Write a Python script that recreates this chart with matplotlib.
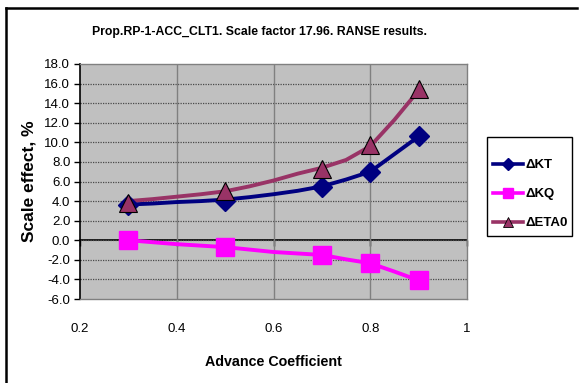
import matplotlib
matplotlib.use("Agg")
import matplotlib.pyplot as plt
from matplotlib.lines import Line2D
from matplotlib.patches import Rectangle

# Advance coefficient grid for the smoothed curves
J_curve = [0.30, 0.35, 0.40, 0.45, 0.50, 0.55, 0.60, 0.65, 0.70, 0.75, 0.80, 0.85, 0.90]
kt_curve = [3.65, 3.75, 3.90, 4.00, 4.15, 4.40, 4.70, 5.05, 5.50, 6.20, 7.00, 8.80, 10.60]
kq_curve = [0.00, -0.20, -0.40, -0.55, -0.70, -0.95, -1.20, -1.35, -1.50, -1.95, -2.35, -3.20, -4.10]
eta_curve = [4.00, 4.20, 4.45, 4.70, 5.00, 5.50, 6.10, 6.80, 7.40, 8.20, 9.60, 12.30, 15.30]

# Computed points
J_pts = [0.3, 0.5, 0.7, 0.8, 0.9]
kt_pts = [3.65, 4.0, 5.4, 7.0, 10.6]
kq_pts = [0.05, -0.66, -1.55, -2.36, -4.1]
eta_pts = [3.8, 5.0, 7.3, 9.7, 15.4]

x_ticks = [0.2, 0.4, 0.6, 0.8, 1.0]
x_labels = ["0.2", "0.4", "0.6", "0.8", "1"]
y_ticks = [-6, -4, -2, 0, 2, 4, 6, 8, 10, 12, 14, 16, 18]

plt.rcParams["font.family"] = ["Liberation Sans", "DejaVu Sans"]

C_KT = "#000080"
C_KQ = "#FF00FF"
C_ETA = "#993366"

W, H = 582, 383
fig = plt.figure(figsize=(W / 100, H / 100), dpi=100)
ax = fig.add_axes([80 / W, 84 / H, 387 / W, 235 / H])
ax.set_facecolor("#C0C0C0")

ax.set_xlim(0.2, 1.0)
ax.set_ylim(-6, 18)
ax.set_xticks(x_ticks)
ax.set_xticklabels(x_labels)
ax.set_yticks(y_ticks)
ax.set_yticklabels([f"{v:.1f}" for v in y_ticks])
ax.tick_params(axis="x", length=0, pad=17, labelsize=9.5)
ax.tick_params(axis="y", direction="out", length=4, width=1, pad=3, labelsize=9.5)

# grid: dotted horizontals, plain verticals
for v in y_ticks[1:-1]:
    ax.axhline(v, color="#4a4a4a", lw=0.9, ls=(0, (1, 1)), zorder=1)
for v in x_ticks[1:-1]:
    ax.axvline(v, color="#808080", lw=1.0, zorder=1)

for s in ["top", "right", "bottom"]:
    ax.spines[s].set_color("#808080")
    ax.spines[s].set_linewidth(1.0)
ax.spines["left"].set_color("black")
ax.spines["left"].set_linewidth(1.2)

# x axis crosses at zero
zero_ax = ax.secondary_xaxis(6 / 24)
zero_ax.set_xticks(x_ticks)
zero_ax.tick_params(direction="out", length=4, width=1, labelbottom=False, labeltop=False)
zero_ax.spines["bottom"].set_color("black")
zero_ax.spines["bottom"].set_linewidth(1.2)

# smoothed curves
ax.plot(J_curve, kt_curve, color=C_KT, lw=2.8, zorder=3, solid_capstyle="round")
ax.plot(J_curve, kq_curve, color=C_KQ, lw=2.8, zorder=3, solid_capstyle="round")
ax.plot(J_curve, eta_curve, color=C_ETA, lw=2.8, zorder=3, solid_capstyle="round")

# markers
ax.plot(J_pts, kt_pts, ls="none", marker="D", ms=10, color=C_KT, mec=C_KT, zorder=4)
ax.plot(J_pts, kq_pts, ls="none", marker="s", ms=12.5, color=C_KQ, mec=C_KQ, zorder=4)
ax.plot(J_pts, eta_pts, ls="none", marker="^", ms=13, color=C_ETA, mec="black", mew=0.8, zorder=5)

ax.set_xlabel("Advance Coefficient", fontsize=10.3, fontweight="bold", labelpad=15)
ax.set_ylabel("Scale effect, %", fontsize=12.5, fontweight="bold", labelpad=6)

fig.text(260 / W, 1 - 32 / H, "Prop.RP-1-ACC_CLT1. Scale factor 17.96. RANSE results.",
         ha="center", va="center", fontsize=8.8, fontweight="bold")

# legend box drawn separately so its padding can differ per side
fig.add_artist(Rectangle((487 / W, 1 - 236 / H), 85 / W, 99 / H, transform=fig.transFigure,
                         facecolor="white", edgecolor="black", lw=1.0, zorder=2))
handles = [
    Line2D([], [], color=C_KT, lw=2.6, marker="D", ms=6, mec=C_KT),
    Line2D([], [], color=C_KQ, lw=2.6, marker="s", ms=6.5, mec=C_KQ),
    Line2D([], [], color=C_ETA, lw=2.6, marker="^", ms=7, mec="black", mew=0.6),
]
leg = fig.legend(handles, ["\u0394KT", "\u0394KQ", "\u0394ETA0"],
                 loc="upper left", bbox_to_anchor=(493 / W, 1 - 159 / H),
                 frameon=False, prop={"weight": "bold", "size": 9.5},
                 handlelength=2.3, handletextpad=0.15, labelspacing=1.28,
                 borderpad=0, borderaxespad=0)
leg.set_zorder(3)

# chart border (left and top edges)
fig.add_artist(Line2D([6 / W, 6 / W], [0, 1 - 8 / H], color="black", lw=1.8))
fig.add_artist(Line2D([6 / W, 577 / W], [1 - 8 / H, 1 - 8 / H], color="black", lw=1.8))

fig.savefig("out.png", dpi=100, facecolor="white")
